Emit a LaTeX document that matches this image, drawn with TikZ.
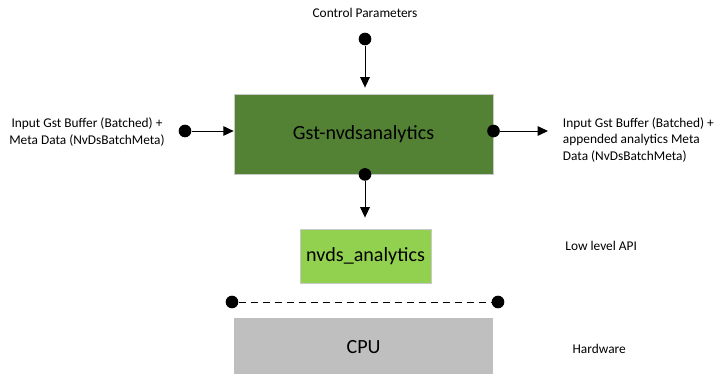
\documentclass[tikz,border=0pt]{standalone}
\usepackage{fontspec}
\setmainfont{Carlito}
\usetikzlibrary{arrows.meta,positioning,calc}
\definecolor{plugingreen}{HTML}{548235}
\definecolor{libgreen}{HTML}{92D050}
\definecolor{hwgray}{HTML}{BFBFBF}
\definecolor{edgegray}{HTML}{C9C9C9}
\tikzset{
  block/.style={rectangle, draw=edgegray, line width=0.6pt, align=center, font=\fontsize{14.3}{16}\selectfont},
  label text/.style={align=center, font=\fontsize{9.5}{11.6}\selectfont},
  port/.style={circle, fill=black, draw=none, minimum width=8pt, minimum height=9pt, inner sep=0pt},
  flow/.style={-{Triangle[length=2.6mm,width=2.4mm]}, draw=black, line width=0.7pt},
  layer line/.style={draw=black, line width=0.7pt, dash pattern=on 0.18cm off 0.12cm}
}
\begin{document}
\begin{tikzpicture}
  \useasboundingbox (0,0) rectangle (18,-9.35);

  \node[block, fill=plugingreen, minimum width=6.475cm, minimum height=2.0cm] (plugin) at (9.09,-3.35) {Gst-nvdsanalytics};
  \node[block, fill=libgreen, minimum width=3.275cm, minimum height=1.35cm] (lib) at (9.14,-6.4) {nvds\_analytics};
  \node[block, fill=hwgray, draw=none, minimum width=6.475cm, minimum height=1.45cm] (cpu) at (9.09,-8.675) {CPU};

  % control input
  \node[label text] (ctrl) at (9.125,-0.33) {Control Parameters};
  \node[port] (ctrldot) at (9.125,-0.975) {};
  \draw[flow, shorten >=0.15cm] (ctrldot) -- (ctrldot |- plugin.north);

  % buffers in / out
  \node[label text] (inbuf) at (2.175,-3.3) {Input Gst Buffer (Batched) +\\Meta Data (NvDsBatchMeta)};
  \node[port] (indot) at (4.625,-3.275) {};
  \draw[flow] (indot) -- (indot -| plugin.west);

  \node[port] (outdot) at (plugin.east |- indot) {};
  \coordinate (outend) at (13.7,-3.275);
  \draw[flow] (outdot) -- (outend);
  \node[label text, align=left, anchor=west] (outbuf) at (13.95,-3.5) {Input Gst Buffer (Batched) +\\appended analytics Meta\\Data (NvDsBatchMeta)};

  % plugin to library
  \node[port] (libdot) at (ctrldot |- plugin.south) {};
  \draw[flow, shorten >=0.275cm] (libdot) -- (libdot |- lib.north);
  \node[label text] (api) at (15.03,-6.15) {Low level API};

  % sw / hw boundary
  \node[port] (hwleft) at (5.8,-7.55) {};
  \node[port] (hwright) at (12.45,-7.55) {};
  \draw[layer line] (hwleft) -- (hwright);
  \node[label text] (hw) at (14.98,-8.725) {Hardware};
\end{tikzpicture}
\end{document}
